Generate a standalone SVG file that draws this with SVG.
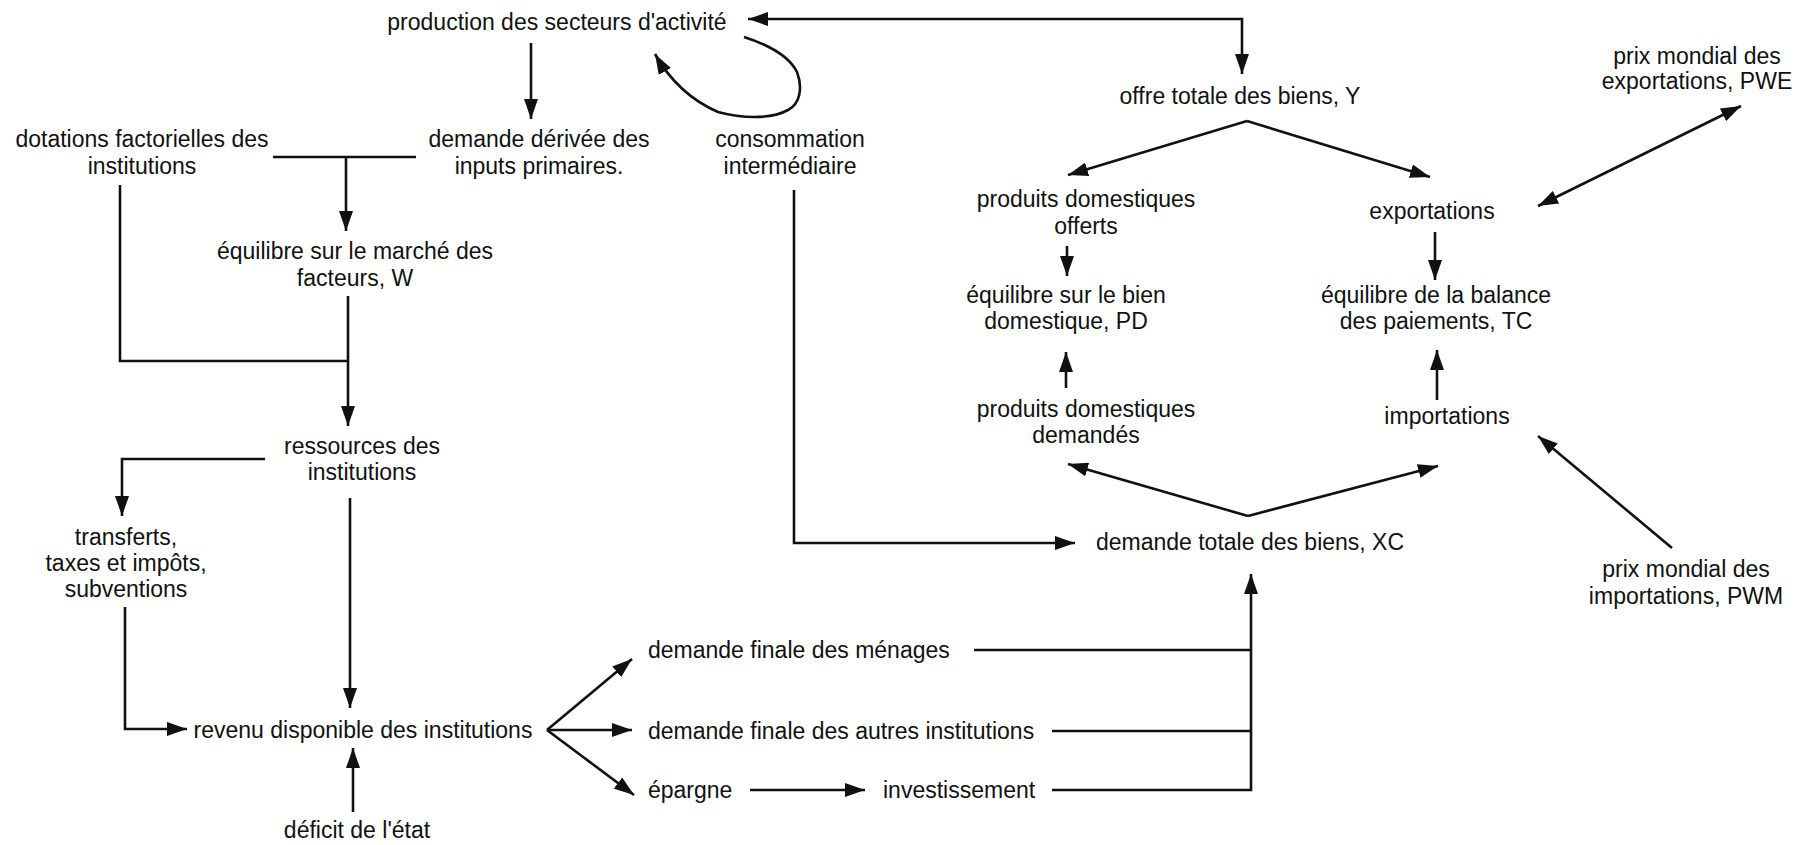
<svg xmlns="http://www.w3.org/2000/svg" width="1807" height="845" viewBox="0 0 1807 845">
<style>
text{font-family:"Liberation Sans",Arial,sans-serif;font-size:23px;fill:#111;text-anchor:middle}
.s{text-anchor:start}
.c path{fill:none;stroke:#111;stroke-width:2.6}
</style>
<defs>
<marker id="ah" markerUnits="userSpaceOnUse" markerWidth="20" markerHeight="14" refX="20" refY="7" orient="auto-start-reverse" viewBox="0 0 20 14">
<path d="M0,0 L20,7 L0,14 z" fill="#111"/>
</marker>
</defs>
<rect width="1807" height="845" fill="#fff"/>
<g class="c" id="connectors">
<path d="M748,19 H1242 V74" marker-start="url(#ah)" marker-end="url(#ah)"/>
<path d="M744,37 C772,46 790,58 797,72 C803,88 800,104 788,110 C770,120 740,118 718,112 C695,102 672,84 655,54" marker-end="url(#ah)"/>
<path d="M531,43 V119" marker-end="url(#ah)"/>
<path d="M273,157 H416"/>
<path d="M346,157 V231" marker-end="url(#ah)"/>
<path d="M120,185 V361 H348"/>
<path d="M348,296 V426" marker-end="url(#ah)"/>
<path d="M265,459 H122 V516" marker-end="url(#ah)"/>
<path d="M350,498 V708" marker-end="url(#ah)"/>
<path d="M125,607 V729 H187" marker-end="url(#ah)"/>
<path d="M353,812 V748" marker-end="url(#ah)"/>
<path d="M547,730 L632,659" marker-end="url(#ah)"/>
<path d="M547,730 H632" marker-end="url(#ah)"/>
<path d="M547,730 L634,795" marker-end="url(#ah)"/>
<path d="M750,790 H865" marker-end="url(#ah)"/>
<path d="M974,650 H1251"/>
<path d="M1052,731 H1251"/>
<path d="M1052,790 H1251 V574" marker-end="url(#ah)"/>
<path d="M794,190 V543 H1075" marker-end="url(#ah)"/>
<path d="M1248,516 L1068,464" marker-end="url(#ah)"/>
<path d="M1248,516 L1438,466" marker-end="url(#ah)"/>
<path d="M1437,400 V350" marker-end="url(#ah)"/>
<path d="M1066,388 V352" marker-end="url(#ah)"/>
<path d="M1247,121 L1068,175" marker-end="url(#ah)"/>
<path d="M1247,121 L1430,177" marker-end="url(#ah)"/>
<path d="M1067,246 V276" marker-end="url(#ah)"/>
<path d="M1435,232 V280" marker-end="url(#ah)"/>
<path d="M1538,206 L1741,106" marker-start="url(#ah)" marker-end="url(#ah)"/>
<path d="M1672,548 L1538,436" marker-end="url(#ah)"/>
</g>
<g id="production"><text x="557" y="30">production des secteurs d'activité</text></g>
<g id="demande-derivee"><text x="539" y="147">demande dérivée des</text><text x="539" y="174">inputs primaires.</text></g>
<g id="consommation"><text x="790" y="147">consommation</text><text x="790" y="174">intermédiaire</text></g>
<g id="dotations"><text x="142" y="147">dotations factorielles des</text><text x="142" y="174">institutions</text></g>
<g id="equilibre-w"><text x="355" y="259">équilibre sur le marché des</text><text x="355" y="286">facteurs, W</text></g>
<g id="ressources"><text x="362" y="454">ressources des</text><text x="362" y="480">institutions</text></g>
<g id="transferts"><text x="126" y="545">transferts,</text><text x="126" y="571">taxes et impôts,</text><text x="126" y="597">subventions</text></g>
<g id="revenu"><text x="363" y="738">revenu disponible des institutions</text></g>
<g id="deficit"><text x="357" y="838">déficit de l'état</text></g>
<g id="menages"><text class="s" x="648" y="658">demande finale des ménages</text></g>
<g id="autres"><text class="s" x="648" y="739">demande finale des autres institutions</text></g>
<g id="epargne"><text class="s" x="648" y="798">épargne</text></g>
<g id="investissement"><text class="s" x="883" y="798">investissement</text></g>
<g id="offre"><text x="1240" y="104">offre totale des biens, Y</text></g>
<g id="offerts"><text x="1086" y="207">produits domestiques</text><text x="1086" y="234">offerts</text></g>
<g id="exportations"><text x="1432" y="219">exportations</text></g>
<g id="equilibre-pd"><text x="1066" y="303">équilibre sur le bien</text><text x="1066" y="329">domestique, PD</text></g>
<g id="equilibre-tc"><text x="1436" y="303">équilibre de la balance</text><text x="1436" y="329">des paiements, TC</text></g>
<g id="demandes"><text x="1086" y="417">produits domestiques</text><text x="1086" y="443">demandés</text></g>
<g id="importations"><text x="1447" y="424">importations</text></g>
<g id="xc"><text x="1250" y="550">demande totale des biens, XC</text></g>
<g id="pwe"><text x="1697" y="64">prix mondial des</text><text x="1697" y="89">exportations, PWE</text></g>
<g id="pwm"><text x="1686" y="577">prix mondial des</text><text x="1686" y="604">importations, PWM</text></g>
</svg>
